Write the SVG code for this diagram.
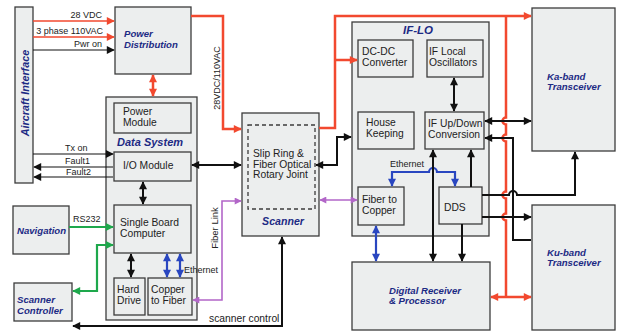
<svg xmlns="http://www.w3.org/2000/svg" width="619" height="333" viewBox="0 0 619 333">
<style>
.box{fill:#eceeee;stroke:#3c3c3c;stroke-width:1.3}
.dash{fill:none;stroke:#3c3c3c;stroke-width:1.3;stroke-dasharray:4,3}
.t{font-family:"Liberation Sans",Arial,sans-serif;font-size:10.3px;fill:#222}
.lb{font-family:"Liberation Sans",Arial,sans-serif;font-size:9px;fill:#222}
.ti{font-family:"Liberation Sans",Arial,sans-serif;font-size:9.6px;font-weight:bold;font-style:italic;fill:#1c2a84}
.k{fill:none;stroke:#111;stroke-width:2}
.kt{fill:none;stroke:#111;stroke-width:1.2}
.r{fill:none;stroke:#f2492f;stroke-width:2.5}
.rt{fill:none;stroke:#f2492f;stroke-width:1.6}
.g{fill:none;stroke:#1ea84c;stroke-width:2.2}
.b{fill:none;stroke:#2946c0;stroke-width:2.2}
.p{fill:none;stroke:#b266c8;stroke-width:1.6}
</style>
<defs>
<marker id="ak" viewBox="0 0 10 10" refX="9" refY="5" markerWidth="9" markerHeight="8" markerUnits="userSpaceOnUse" orient="auto-start-reverse"><path d="M0,0L10,5L0,10z" fill="#111"/></marker>
<marker id="ar" viewBox="0 0 10 10" refX="9" refY="5" markerWidth="9" markerHeight="8" markerUnits="userSpaceOnUse" orient="auto-start-reverse"><path d="M0,0L10,5L0,10z" fill="#f2492f"/></marker>
<marker id="ag" viewBox="0 0 10 10" refX="9" refY="5" markerWidth="9" markerHeight="8" markerUnits="userSpaceOnUse" orient="auto-start-reverse"><path d="M0,0L10,5L0,10z" fill="#1ea84c"/></marker>
<marker id="ab" viewBox="0 0 10 10" refX="9" refY="5" markerWidth="9" markerHeight="8" markerUnits="userSpaceOnUse" orient="auto-start-reverse"><path d="M0,0L10,5L0,10z" fill="#2946c0"/></marker>
<marker id="ap" viewBox="0 0 10 10" refX="9" refY="5" markerWidth="8" markerHeight="7" markerUnits="userSpaceOnUse" orient="auto-start-reverse"><path d="M0,0L10,5L0,10z" fill="#b266c8"/></marker>
</defs>
<rect width="619" height="333" fill="#ffffff"/>

<g id="aircraft-interface">
<rect class="box" x="15" y="7" width="18" height="176"/>
<text class="ti" style="font-size:10.8px" text-anchor="middle" transform="translate(29,93) rotate(-90)">Aircraft Interface</text>
</g>
<g id="power-distribution">
<rect class="box" x="115" y="7" width="76" height="67"/>
<text class="ti" x="124" y="37">Power</text>
<text class="ti" x="124" y="48">Distribution</text>
</g>
<g id="data-system">
<rect class="box" x="106" y="97" width="91" height="223"/>
<text class="ti" style="font-size:11px" x="117" y="146">Data System</text>
</g>
<g id="power-module">
<rect class="box" x="114" y="103" width="77" height="30"/>
<text class="t" x="123" y="115">Power</text>
<text class="t" x="123" y="126">Module</text>
</g>
<g id="io-module">
<rect class="box" x="114" y="152" width="77" height="29"/>
<text class="t" x="123" y="169">I/O Module</text>
</g>
<g id="single-board-computer">
<rect class="box" x="114" y="205" width="77" height="48"/>
<text class="t" x="120" y="226">Single Board</text>
<text class="t" x="120" y="237">Computer</text>
</g>
<g id="hard-drive">
<rect class="box" x="114" y="278" width="31" height="37"/>
<text class="t" x="117" y="293">Hard</text>
<text class="t" x="117" y="304">Drive</text>
</g>
<g id="copper-to-fiber">
<rect class="box" x="148" y="278" width="44" height="37"/>
<text class="t" x="151" y="293">Copper</text>
<text class="t" x="151" y="304">to Fiber</text>
</g>
<g id="navigation">
<rect class="box" x="13" y="206" width="56" height="48"/>
<text class="ti" x="17" y="234">Navigation</text>
</g>
<g id="scanner-controller">
<rect class="box" x="14" y="283" width="58" height="38"/>
<text class="ti" x="17" y="303">Scanner</text>
<text class="ti" x="17" y="314">Controller</text>
</g>
<g id="scanner">
<rect class="box" x="242" y="113" width="77" height="123"/>
<rect class="dash" x="248" y="125" width="67" height="84"/>
<text class="t" x="253" y="157">Slip Ring &amp;</text>
<text class="t" x="253" y="168">Fiber Optical</text>
<text class="t" x="253" y="178">Rotary Joint</text>
<text class="ti" style="font-size:10.6px" x="283" y="225" text-anchor="middle">Scanner</text>
</g>
<g id="if-lo">
<rect class="box" x="352" y="22" width="137" height="214"/>
<text class="ti" style="font-size:11.5px" x="418" y="34" text-anchor="middle">IF-LO</text>
</g>
<g id="dc-dc-converter">
<rect class="box" x="358" y="40" width="55" height="37"/>
<text class="t" x="362" y="55">DC-DC</text>
<text class="t" x="362" y="66">Converter</text>
</g>
<g id="if-local-oscillators">
<rect class="box" x="427" y="40" width="56" height="37"/>
<text class="t" x="429" y="55">IF Local</text>
<text class="t" x="429" y="66">Oscillators</text>
</g>
<g id="house-keeping">
<rect class="box" x="358" y="112" width="56" height="37"/>
<text class="t" x="366" y="126">House</text>
<text class="t" x="366" y="137">Keeping</text>
</g>
<g id="if-up-down">
<rect class="box" x="425" y="112" width="59" height="37"/>
<text class="t" x="428" y="127">IF Up/Down</text>
<text class="t" x="428" y="138">Conversion</text>
</g>
<g id="fiber-to-copper">
<rect class="box" x="358" y="187" width="46" height="38"/>
<text class="t" x="362" y="203">Fiber to</text>
<text class="t" x="362" y="214">Copper</text>
</g>
<g id="dds">
<rect class="box" x="439" y="187" width="43" height="37"/>
<text class="t" x="444" y="211">DDS</text>
</g>
<g id="digital-receiver">
<rect class="box" x="352" y="262" width="138" height="68"/>
<text class="ti" x="389" y="294">Digital Receiver</text>
<text class="ti" x="389" y="304">&amp; Processor</text>
</g>
<g id="ka-band">
<rect class="box" x="532" y="8" width="83" height="143"/>
<text class="ti" x="547" y="80">Ka-band</text>
<text class="ti" x="547" y="90">Transceiver</text>
</g>
<g id="ku-band">
<rect class="box" x="532" y="205" width="83" height="125"/>
<text class="ti" x="547" y="256">Ku-band</text>
<text class="ti" x="547" y="266">Transceiver</text>
</g>

<g id="connectors">
<!-- power inputs -->
<path class="rt" d="M33,21H114" marker-end="url(#ar)"/>
<path class="rt" d="M33,37H114" marker-end="url(#ar)"/>
<path class="kt" d="M33,50H114" marker-end="url(#ak)"/>
<text class="lb" x="102" y="18" text-anchor="end">28 VDC</text>
<text class="lb" x="103" y="34" text-anchor="end">3 phase 110VAC</text>
<text class="lb" x="102" y="47" text-anchor="end">Pwr on</text>
<path class="r" d="M153,75V96" marker-start="url(#ar)" marker-end="url(#ar)"/>
<!-- 28VDC/110VAC to scanner -->
<path class="r" d="M191,16H223V129H241" marker-end="url(#ar)"/>
<text class="lb" text-anchor="middle" transform="translate(220,78) rotate(-90)">28VDC/110VAC</text>
<!-- scanner to IF-LO / Ka -->
<path class="r" d="M319,128H335V16H531" marker-end="url(#ar)"/>
<path class="r" d="M335,60H357" marker-end="url(#ar)"/>
<path class="r" d="M506,16V117.5A3.5,3.5 0 0 0 506,124.5V134.5A3.5,3.5 0 0 0 506,141.5V191.5A3.5,3.5 0 0 0 506,198.5V213.5A3.5,3.5 0 0 0 506,220.5V297"/>
<path class="r" d="M491,297H531" marker-start="url(#ar)" marker-end="url(#ar)"/>
<!-- aircraft interface signals -->
<path class="kt" d="M33,154H113" marker-end="url(#ak)"/>
<path class="kt" d="M113,167H34" marker-end="url(#ak)"/>
<path class="kt" d="M113,177H34" marker-end="url(#ak)"/>
<text class="lb" x="65" y="151">Tx on</text>
<text class="lb" x="65" y="164">Fault1</text>
<text class="lb" x="66" y="175">Fault2</text>
<!-- data system internal -->
<path class="k" d="M143,182V204" marker-start="url(#ak)" marker-end="url(#ak)"/>
<path class="k" d="M131,254V277" marker-start="url(#ak)" marker-end="url(#ak)"/>
<path class="b" d="M167,254V277" marker-start="url(#ab)" marker-end="url(#ab)"/>
<path class="b" d="M180,254V277" marker-start="url(#ab)" marker-end="url(#ab)"/>
<text class="lb" x="184" y="273">Ethernet</text>
<path class="k" d="M192,165H241" marker-start="url(#ak)" marker-end="url(#ak)"/>
<!-- navigation / scanner controller -->
<path class="g" d="M69,227H113" marker-end="url(#ag)"/>
<text class="lb" x="73" y="222">RS232</text>
<path class="g" d="M73,291H97V245H113" marker-start="url(#ag)" marker-end="url(#ag)"/>
<!-- fiber link -->
<path class="p" d="M193,300H222V201H241" marker-start="url(#ap)" marker-end="url(#ap)"/>
<text class="lb" style="font-size:9.5px" text-anchor="middle" transform="translate(218,228) rotate(-90)">Fiber Link</text>
<!-- scanner control -->
<path class="k" d="M73,326H282V237" marker-start="url(#ak)" marker-end="url(#ak)"/>
<text class="t" x="209" y="322">scanner control</text>
<!-- scanner to IF-LO -->
<path class="k" d="M316,165H337V137H351" marker-start="url(#ak)" marker-end="url(#ak)"/>
<path class="p" d="M320,200H357" marker-start="url(#ap)" marker-end="url(#ap)"/>
<!-- IF-LO internal -->
<path class="k" d="M454,78V111" marker-start="url(#ak)" marker-end="url(#ak)"/>
<path class="b" d="M392,186V172H429A4,4 0 0 1 437,172H455V186" marker-start="url(#ab)" marker-end="url(#ab)"/>
<text class="lb" x="390" y="167">Ethernet</text>
<path class="k" d="M433,150V261" marker-start="url(#ak)" marker-end="url(#ak)"/>
<path class="k" d="M471,187V150" marker-end="url(#ak)"/>
<path class="k" d="M462,224V261" marker-end="url(#ak)"/>
<path class="b" d="M376,226V261" marker-start="url(#ab)" marker-end="url(#ab)"/>
<!-- to transceivers -->
<path class="k" d="M485,121H531" marker-start="url(#ak)" marker-end="url(#ak)"/>
<path class="k" d="M531,240H513V138H485" marker-end="url(#ak)"/>
<path class="k" d="M482,217H531" marker-end="url(#ak)"/>
<path class="k" d="M482,195H509A4,4 0 0 1 517,195H575V152" marker-end="url(#ak)"/>
</g>
</svg>
